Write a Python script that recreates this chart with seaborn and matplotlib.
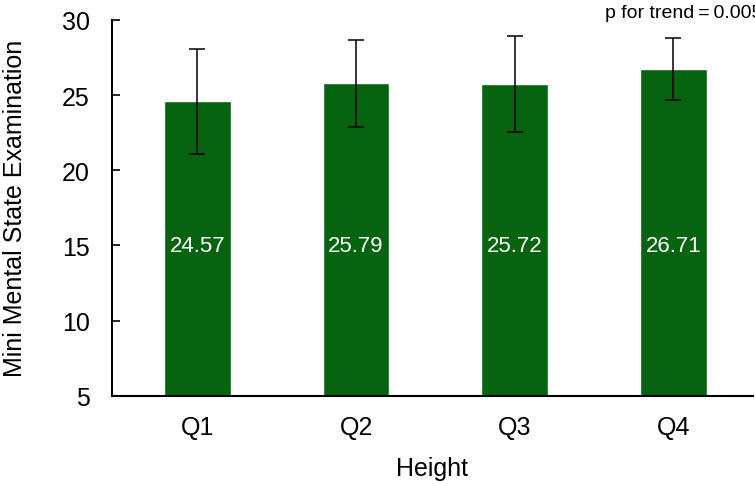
import matplotlib
matplotlib.use("Agg")
import matplotlib.pyplot as plt
import seaborn as sns
import pandas as pd
from matplotlib import font_manager

categories = ["Q1", "Q2", "Q3", "Q4"]
means = [24.57, 25.79, 25.72, 26.71]
sds = [3.5, 2.9, 3.2, 2.05]
value_labels = ["24.57", "25.79", "25.72", "26.71"]
yticks = [5, 10, 15, 20, 25, 30]

sns.set_theme(style="white")
names = {f.name for f in font_manager.fontManager.ttflist}
fam = [f for f in ["Liberation Sans Narrow", "Liberation Sans", "DejaVu Sans"] if f in names]
plt.rcParams["font.family"] = fam
for k in ["text.color", "axes.labelcolor", "xtick.color", "ytick.color"]:
    plt.rcParams[k] = "black"

df = pd.DataFrame({"cat": categories, "mean": means})

fig = plt.figure(figsize=(7.55, 4.85), dpi=100)
ax = fig.add_axes([0.148, 0.182, 0.849, 0.775])

sns.barplot(data=df, x="cat", y="mean", color="#06630f", saturation=1,
            width=0.42, errorbar=None, ax=ax)
ax.errorbar(range(len(categories)), means, yerr=sds, fmt="none",
            ecolor="black", elinewidth=1.1, capsize=5.5, capthick=1.1)

for i, lab in enumerate(value_labels):
    ax.text(i, 15, lab, color="white", ha="center", va="center", fontsize=16)

ax.set_ylim(5, 30)
ax.set_xlim(-0.54, 3.5)
ax.set_yticks(yticks)
ax.set_yticklabels([str(t) for t in yticks], fontsize=18)
ax.set_xticks(range(len(categories)))
ax.set_xticklabels(categories, fontsize=18)
ax.set_xticks([0.5, 1.5, 2.5, 3.5], minor=True)
ax.tick_params(axis="x", which="major", length=0, pad=14)
ax.tick_params(axis="x", which="minor", direction="in", length=6, width=1.2, color="black")
ax.tick_params(axis="y", direction="in", length=6, width=1.2, color="black", pad=16, left=True)
ax.set_ylabel("Mini Mental State Examination", fontsize=18, labelpad=25)
ax.set_xlabel("Height", fontsize=18, labelpad=12)
for s in ["top", "right"]:
    ax.spines[s].set_visible(False)
for s in ["left", "bottom"]:
    ax.spines[s].set_color("black")
    ax.spines[s].set_linewidth(1.5)

fig.text(605 / 755, 1 - 5 / 485, "p for trend\u2009=\u20090.005", ha="left", va="top",
         fontsize=14, family=fam + ["DejaVu Sans"])

fig.savefig("out.png", dpi=100)
